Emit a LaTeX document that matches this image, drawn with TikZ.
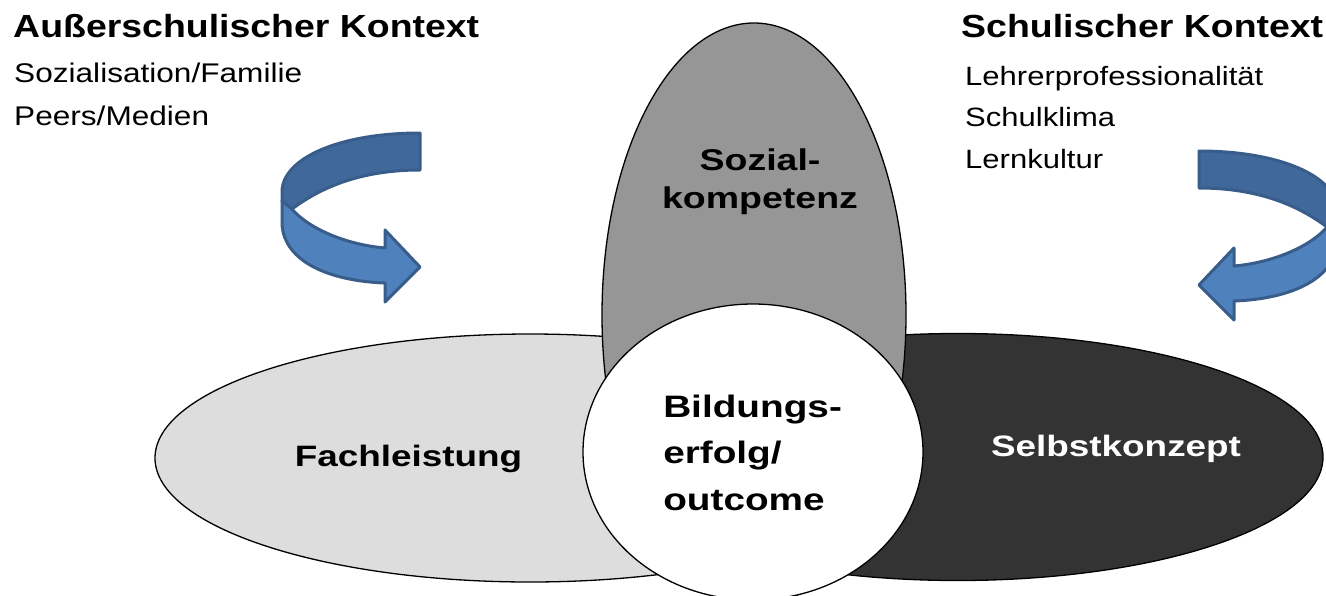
\documentclass[tikz,border=0pt]{standalone}
\usepackage{fontspec}
\setmainfont{Liberation Sans}
\usetikzlibrary{shapes.geometric}
\definecolor{lightfill}{HTML}{DDDDDD}
\definecolor{midfill}{HTML}{969696}
\definecolor{darkfill}{HTML}{333333}
\definecolor{arrowdark}{HTML}{41689A}
\definecolor{arrowlight}{HTML}{4F81BD}
\definecolor{arrowline}{HTML}{385D8A}
\newcommand{\bendarrow}{%
  \filldraw[arrowband, fill=arrowdark] (420,133) .. controls (340,133) and (282,158) .. (282,192)
     -- (282,201) -- (292,209) .. controls (320,188) and (360,170) .. (420,170) -- cycle;
  \filldraw[arrowband, fill=arrowlight] (282,201) -- (282,224) .. controls (284,262) and (330,281) .. (385,283)
     -- (385,302) -- (420,267) -- (385,230) -- (385,248)
     .. controls (340,244) and (305,225) .. (292,209) -- cycle;
}
\begin{document}
\begin{tikzpicture}[x=1pt,y=-1pt,
  blob/.style={ellipse, draw=black, line width=1.3pt, inner sep=0pt},
  arrowband/.style={draw=arrowline, line width=3pt, line join=round},
  biglabel/.style={font=\bfseries\fontsize{29.5}{35}\selectfont, xscale=1.25, inner sep=0pt},
  titletext/.style={font=\bfseries\fontsize{32}{38}\selectfont, xscale=1.17, inner sep=0pt},
  bodytext/.style={font=\fontsize{27}{43}\selectfont, xscale=1.17, inner sep=0pt, align=left}
]
\useasboundingbox (0,0) rectangle (1326,595);
\clip (0,0) rectangle (1326,595);
\fill[white] (0,0) rectangle (1326,595);

\node[blob, fill=lightfill, minimum width=750pt, minimum height=248pt] (fach) at (530,458) {};
\node[blob, fill=darkfill, minimum width=730pt, minimum height=247pt] (selbst) at (958,457) {};
\node[blob, fill=midfill, minimum width=304pt, minimum height=584pt] (sozial) at (754,315) {};
\node[blob, fill=white, minimum width=340pt, minimum height=296pt] (bildung) at (753,452) {};

\node[biglabel, anchor=base] (fachtext) at (408.5,466) {Fachleistung};
\node[biglabel, text=white, anchor=base] (selbsttext) at (1116,456) {Selbstkonzept};
\node[biglabel, font=\bfseries\fontsize{30}{38}\selectfont, align=center, anchor=base] (sozialtext) at (760,208) {Sozial-\\kompetenz};
\node[biglabel, font=\bfseries\fontsize{31}{46.5}\selectfont, align=left, anchor=base west] (bildungtext) at (663,510) {Bildungs-\\erfolg/\\outcome};

\node[titletext, anchor=base west] (ausser) at (13,37) {Außerschulischer Kontext};
\node[bodytext, anchor=base west] (ausserlist) at (14,125) {Sozialisation/Familie\\Peers/Medien};
\node[titletext, anchor=base west] (schul) at (961,37) {Schulischer Kontext};
\node[bodytext, font=\fontsize{26.5}{41.5}\selectfont, anchor=base west] (schullist) at (965,168) {Lehrerprofessionalität\\Schulklima\\Lernkultur};

\bendarrow
\begin{scope}[shift={(1619,18)}, xscale=-1]
  \bendarrow
\end{scope}
\end{tikzpicture}
\end{document}
